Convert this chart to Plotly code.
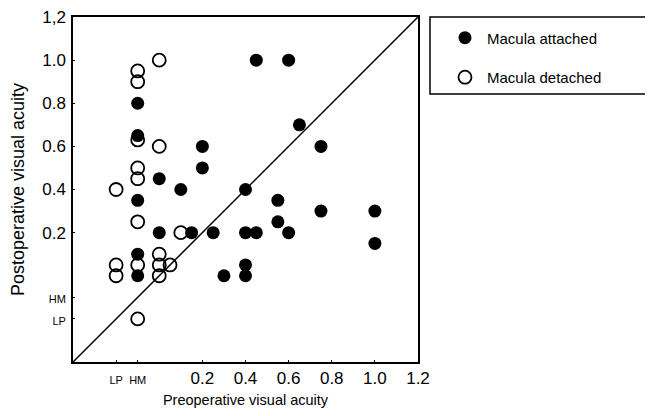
import plotly.graph_objects as go

# Coded acuity values: LP = -0.2, HM = -0.1
LP, HM = -0.2, -0.1

attached_pre = [HM, HM, 0.2, 0.2, 0.0, 0.1, HM, 0.0, 0.15, 0.25, HM, HM, 0.3,
                0.45, 0.6, 0.65, 0.75, 0.4, 0.55, 0.75, 1.0, 0.55, 0.4, 0.45, 0.6,
                1.0, 0.4, 0.4]
attached_post = [0.8, 0.65, 0.6, 0.5, 0.45, 0.4, 0.35, 0.2, 0.2, 0.2, 0.1, 0.0, 0.0,
                 1.0, 1.0, 0.7, 0.6, 0.4, 0.35, 0.3, 0.3, 0.25, 0.2, 0.2, 0.2,
                 0.15, 0.05, 0.0]

detached_pre = [HM, HM, 0.0, HM, 0.0, HM, HM, LP, HM, 0.1, LP, LP, HM, 0.0, 0.0,
                0.0, 0.05, HM]
detached_post = [0.95, 0.9, 1.0, 0.63, 0.6, 0.5, 0.45, 0.4, 0.25, 0.2, 0.05, 0.0,
                 0.05, 0.1, 0.05, 0.0, 0.05, LP]

axis_range = [-0.4, 1.2]
tick_vals = [LP, HM, 0.2, 0.4, 0.6, 0.8, 1.0, 1.2]
x_tick_text = ["LP", "HM", "0.2", "0.4", "0.6", "0.8", "1.0", "1.2"]
y_tick_text = ["LP", "HM", "0.2", "0.4", "0.6", "0.8", "1.0", "1,2"]

def fmt(labels):
    return [f"<span style='font-size:11px'>{t}</span>" if t in ("LP", "HM") else t
            for t in labels]

fig = go.Figure()

# identity line
fig.add_trace(go.Scatter(x=axis_range, y=axis_range, mode="lines",
                         line=dict(color="black", width=1.5),
                         showlegend=False, hoverinfo="skip"))

fig.add_trace(go.Scatter(x=detached_pre, y=detached_post, mode="markers",
                         name="Macula detached", legendrank=2, legendgroup="d",
                         marker=dict(symbol="circle-open", size=13, color="black",
                                     line=dict(width=1.8, color="black"))))

fig.add_trace(go.Scatter(x=attached_pre, y=attached_post, mode="markers",
                         name="Macula attached", legendrank=1, legendgroup="a",
                         marker=dict(symbol="circle", size=13, color="black")))

axis_common = dict(range=axis_range, showgrid=False, zeroline=False,
                   showline=True, linecolor="black", linewidth=1.5, mirror=True,
                   ticks="inside", ticklen=2, tickcolor="black", automargin=False,
                   ticklabeloverflow="allow",
                   tickfont=dict(size=17, color="black"), tickvals=tick_vals)

fig.update_xaxes(**axis_common, ticktext=fmt(x_tick_text), ticklabelstandoff=0,
                 title=dict(text="Preoperative visual acuity",
                            font=dict(size=14.5, color="black"), standoff=8))
fig.update_yaxes(**axis_common, ticktext=fmt(y_tick_text), ticklabelstandoff=2,
                 title=dict(text="Postoperative visual acuity",
                            font=dict(size=18, color="black"), standoff=21))

fig.add_shape(type="rect", xref="paper", yref="paper",
              x0=(430 - 73) / 345, x1=1.69, y0=(362 - 94) / 345, y1=(362 - 17) / 345,
              line=dict(color="black", width=1.5))

# page body has an 8px default margin; figure sized to fill the rest of the window
fig.update_layout(
    width=645, height=408,
    margin=dict(l=65, r=235, t=9, b=54, autoexpand=False),
    paper_bgcolor="white", plot_bgcolor="white",
    font=dict(family="Liberation Sans, Arial, sans-serif", color="black"),
    legend=dict(xref="container", yref="container", x=0.6744, y=0.967,
                xanchor="left", yanchor="top", itemwidth=34,
                font=dict(size=15), tracegroupgap=17, traceorder="grouped",
                bgcolor="rgba(0,0,0,0)", borderwidth=0),
)

fig.write_html("out.html")
